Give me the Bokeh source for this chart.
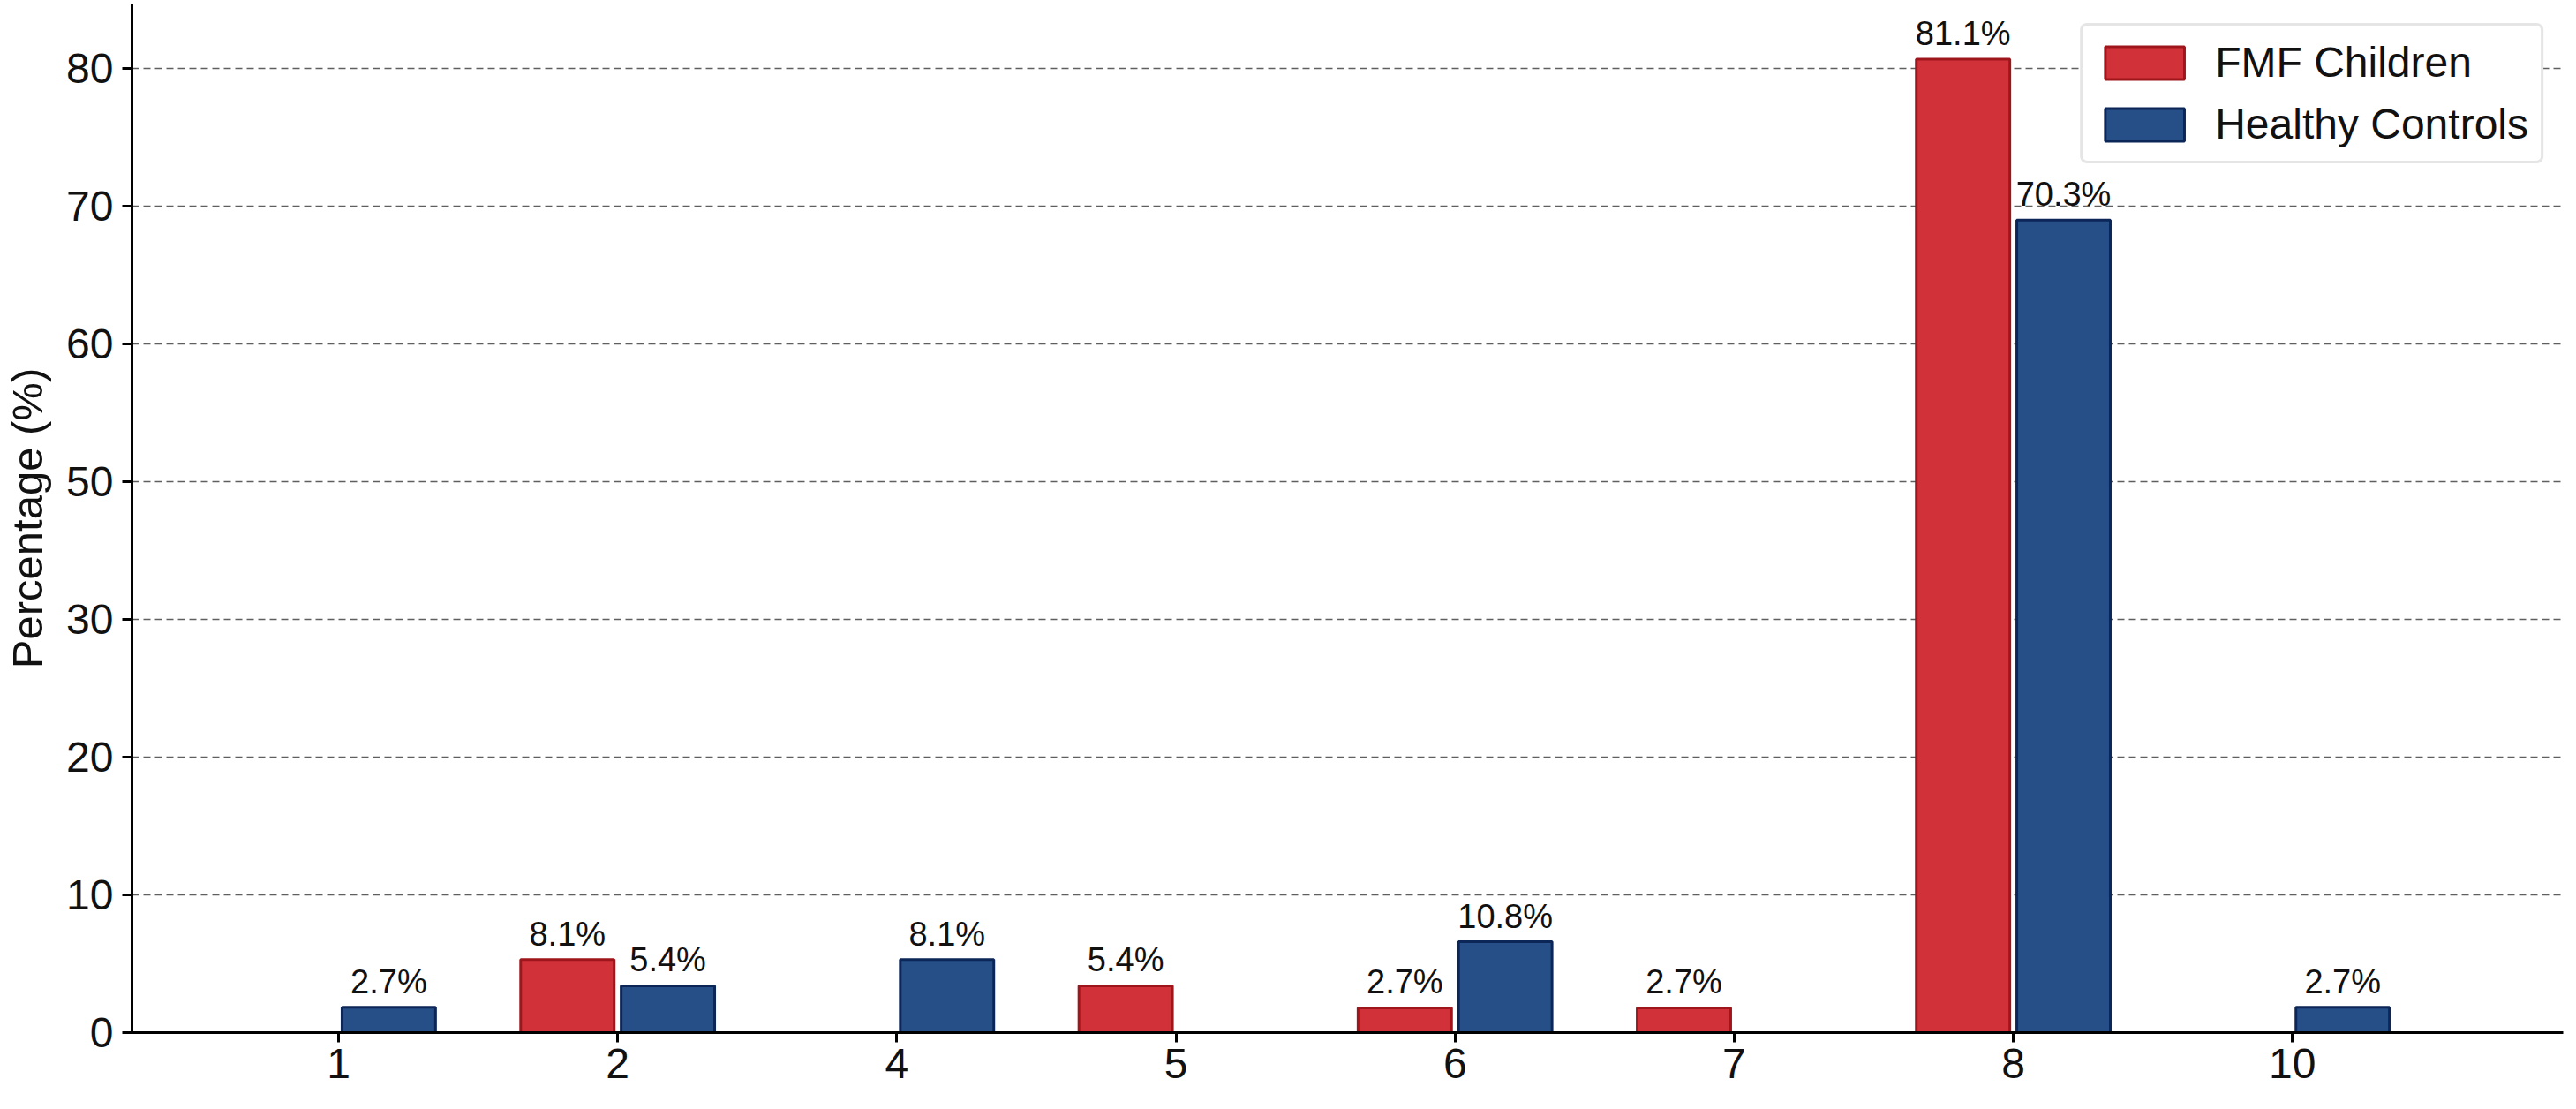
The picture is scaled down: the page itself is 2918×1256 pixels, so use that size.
import numpy as np
from bokeh.plotting import figure
from bokeh.models import ColumnDataSource, FixedTicker, Legend, LegendItem, Range1d
from bokeh.transform import dodge
from bokeh.core.properties import value
from bokeh.embed import file_html
from bokeh.resources import INLINE

# ---------------- data ----------------
categories = ["1", "2", "4", "5", "6", "7", "8", "10"]
series_names = ["FMF Children", "Healthy Controls"]
# bar heights as drawn (read against the axis)
fmf_bar = [0, 5.3, 0, 3.4, 1.8, 1.8, 80.7, 0]
ctrl_bar = [1.85, 3.4, 5.3, 0, 6.6, 0, 69.0, 1.85]
# printed value labels above bars
fmf_label = [None, 8.1, None, 5.4, 2.7, 2.7, 81.1, None]
ctrl_label = [2.7, 5.4, 8.1, None, 10.8, None, 70.3, 2.7]
# y-axis tick labels as printed (evenly spaced on the axis, no 40)
y_tick_labels = [0, 10, 20, 30, 50, 60, 70, 80]

FONT = "Liberation Sans"
RED, RED_EDGE = "#D13239", "#9E161C"
BLUE, BLUE_EDGE = "#264F87", "#0C2658"


def axis_pos(v):
    """Map a value onto the reference's evenly spaced y axis."""
    pos = [10 * i for i in range(len(y_tick_labels))]
    v = np.asarray(v, dtype=float)
    out = np.interp(v, y_tick_labels, pos)
    hi = v > y_tick_labels[-1]
    slope = (pos[-1] - pos[-2]) / (y_tick_labels[-1] - y_tick_labels[-2])
    out[hi] = pos[-1] + (v[hi] - y_tick_labels[-1]) * slope
    return out


def make_source(bars, labels):
    idx = [i for i, b in enumerate(bars) if b > 0]
    return ColumnDataSource(dict(
        x=[float(i) for i in idx],
        top=list(axis_pos([bars[i] for i in idx])),
        label=[f"{labels[i]:.1f}%" if labels[i] is not None else "" for i in idx],
    ))


src_fmf = make_source(fmf_bar, fmf_label)
src_ctrl = make_source(ctrl_bar, ctrl_label)

p = figure(
    width=2916, height=1254,
    output_backend="svg", toolbar_location=None,
    x_range=Range1d(-0.74, len(categories) - 1 + 0.97),
    y_range=Range1d(0, 74.7),
    min_border_left=149, min_border_right=13,
    min_border_top=4, min_border_bottom=85,
)
p.outline_line_color = None
p.background_fill_color = "white"

W = 0.335
OFF = 0.18
r_fmf = p.vbar(x=dodge("x", -OFF), top="top", bottom=0, width=W, source=src_fmf,
               fill_color=RED, line_color=RED_EDGE, line_width=3)
r_ctrl = p.vbar(x=dodge("x", OFF), top="top", bottom=0, width=W, source=src_ctrl,
                fill_color=BLUE, line_color=BLUE_EDGE, line_width=3)

for src, off in ((src_fmf, -OFF), (src_ctrl, OFF)):
    p.text(x=dodge("x", off), y="top", text="label", source=src,
           text_align="center", text_baseline="bottom", y_offset=-8,
           text_font=value(FONT), text_font_size="38px", text_color="#111111")

# axes
xt = list(range(len(categories)))
p.xaxis.ticker = FixedTicker(ticks=xt)
p.xaxis.major_label_overrides = {i: c for i, c in zip(xt, categories)}
ypos = [int(round(v)) for v in axis_pos(y_tick_labels)]
p.yaxis.ticker = FixedTicker(ticks=ypos)
p.yaxis.major_label_overrides = {yp: str(l) for yp, l in zip(ypos, y_tick_labels)}
p.yaxis.axis_label = "Percentage (%)"

for ax in (p.xaxis, p.yaxis):
    ax.axis_line_color = "black"
    ax.axis_line_width = 3
    ax.major_tick_line_color = "black"
    ax.major_tick_line_width = 3
    ax.major_tick_out = 11
    ax.major_tick_in = 0
    ax.minor_tick_line_color = None
    ax.major_label_text_font = FONT
    ax.major_label_text_font_size = "48px"
    ax.major_label_text_color = "#111111"
    ax.axis_label_text_font = FONT
    ax.axis_label_text_font_size = "49px"
    ax.axis_label_text_font_style = "normal"
    ax.axis_label_text_color = "#111111"
p.xaxis.major_label_standoff = 7
p.yaxis.major_label_standoff = 10
p.yaxis.axis_label_standoff = 14

p.xgrid.grid_line_color = None
p.ygrid.grid_line_color = "#5f5f5f"
p.ygrid.grid_line_width = 1.6
p.ygrid.grid_line_dash = "8 5"

legend = Legend(items=[LegendItem(label=series_names[0], renderers=[r_fmf]),
                       LegendItem(label=series_names[1], renderers=[r_ctrl])],
                location="top_right")
legend.margin = 22
legend.padding = 14
legend.spacing = 15
legend.glyph_width = 112
legend.glyph_height = 46
legend.label_standoff = 24
legend.label_text_font = FONT
legend.label_text_font_size = "48px"
legend.label_text_color = "#111111"
legend.border_line_color = "#cccccc"
legend.border_line_width = 3
legend.background_fill_color = "white"
legend.background_fill_alpha = 1.0
try:
    legend.border_radius = 8
except Exception:
    pass
p.add_layout(legend)

open("out.html", "w").write(file_html(p, INLINE))
